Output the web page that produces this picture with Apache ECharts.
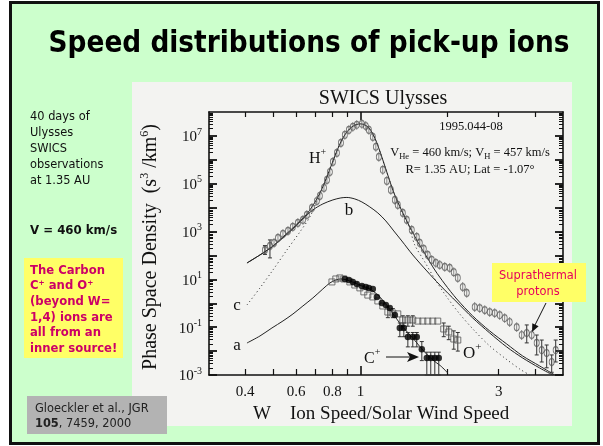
<!DOCTYPE html>
<html><head><meta charset="utf-8">
<script src="https://cdn.jsdelivr.net/npm/echarts@6/dist/echarts.min.js"></script>
<style>html,body{margin:0;padding:0;background:#fff;}#c{width:603px;height:446px;}</style>
</head><body><div id="c"></div>
<script>
// ---------- data (W = ion speed / solar wind speed, F = phase space density s^3/km^6) ----------
const hPlusW = [0.468,0.487,0.503,0.519,0.540,0.562,0.584,0.608,0.633,0.653,0.680,0.707,0.724,0.748,0.766,0.784,0.803,0.829,0.856,0.883,0.912,0.941,0.971,1.011,1.043,1.069,1.103,1.130,1.157,1.194,1.233,1.273,1.314,1.345,1.400,1.445,1.503,1.564,1.602,1.654,1.707,1.762,1.820,1.878,1.954,2.033,2.099,2.167,2.254,2.327,2.479,2.580,2.685,2.793,2.906,3.024,3.146,3.273,3.461,3.601,3.748,3.899,4.057,4.222,4.391,4.570,4.718];
const hPlusF = [170,250,333,540,794,1060,1560,2290,3060,4950,9700,1.9e4,3.1e4,6.7e4,1.44e5,3.1e5,8.2e5,1.95e6,5.1e6,1.1e7,1.78e7,2.4e7,2.9e7,3.2e7,2.6e7,1.78e7,9.1e6,3.5e6,1.32e6,3.8e5,1.31e5,5.5e4,2.1e4,1.3e4,6000,3060,1170,595,333,187,105,65,49,40,33,30,20,11.5,4.8,2.7,0.70,0.63,0.52,0.43,0.39,0.32,0.24,0.165,0.10,0.047,0.057,0.047,0.022,0.011,0.0083,0.0035,0.011];
const hErrW  = [0.468,0.487,3.748,4.057,4.222,4.391,4.570,4.718];
const hErrLo = [110,79,0.022,0.0069,0.0035,0.002,0.0013,0.0035];
const hErrHi = [260,446,0.124,0.047,0.029,0.018,0.0069,0.029];

const cPlusW = [0.883,0.912,0.941,0.971,1.011,1.043,1.069,1.103,1.139,1.185,1.223,1.262,1.314,1.367,1.411,1.457,1.515,1.564,1.628,1.694,1.748,1.805,1.863];
const cPlusF = [10.4,9.4,7.8,6.4,5.3,4.8,4.4,4.0,1.84,1.03,0.85,0.64,0.32,0.093,0.093,0.039,0.039,0.039,0.012,0.0051,0.0051,0.0051,0.0051];
const cErrW  = [1.367,1.411,1.457,1.515,1.564,1.628,1.694,1.748,1.805,1.863];
const cErrLo = [0.04,0.04,0.015,0.015,0.015,0.004,0.001,0.001,0.001,0.001];
const cErrHi = [0.15,0.15,0.06,0.06,0.06,0.025,0.009,0.009,0.009,0.009];

const oPlusW = [0.797,0.822,0.849,0.876,0.919,0.956,0.995,1.027,1.060,1.103,1.148,1.194,1.243,1.293,1.345,1.400,1.457,1.515,1.577,1.641,1.707,1.776,1.848,1.938,2.017,2.099,2.167];
const oPlusF = [7.8,10.4,11.5,10.4,7.8,5.8,4.4,3.0,2.2,1.84,1.25,0.77,0.43,0.39,0.36,0.20,0.20,0.20,0.18,0.18,0.18,0.18,0.18,0.084,0.063,0.032,0.029];
const oErrW  = [1.243,1.293,1.400,1.457,1.515,1.938,2.017,2.099,2.167];
const oErrLo = [0.25,0.25,0.11,0.11,0.11,0.04,0.03,0.012,0.010];
const oErrHi = [0.7,0.6,0.3,0.3,0.3,0.15,0.11,0.07,0.06];

const fitW = [0.4057,0.4498,0.4947,0.5399,0.5845,0.6178,0.6531,0.6796,0.7070,0.7357,0.7656,0.7966,0.8289,0.8625,0.8975,0.9337,0.9714,1.003,1.035,1.069,1.103,1.139,1.175,1.213,1.252,1.293,1.335,1.400,1.480,1.577,1.694,1.805,1.954,2.149,2.440,2.793,3.197,3.630,4.155,4.680];
const fitF = [48.5,105,227,594,1415,2780,5450,10700,23100,60600,1.93e5,6.73e5,2.36e6,6.8e6,1.47e7,2.38e7,3.03e7,3.18e7,2.88e7,2.16e7,1.21e7,5.1e6,1.77e6,5.56e5,1.75e5,5.5e4,2.1e4,6000,1560,367,86.5,24.7,6.43,1.51,0.294,0.0693,0.0198,0.00624,0.00238,0.001];

const curveBW = [0.4057,0.4498,0.4947,0.5399,0.5845,0.6327,0.6850,0.7415,0.8030,0.8555,0.8975,0.9561,1.011,1.077,1.148,1.223,1.303,1.389,1.515,1.694,1.878,2.149,2.440,2.793,3.197,3.630,4.155,4.606];
const curveBF = [48.5,105,227,540,1285,3370,8020,14300,21000,25500,26700,23100,17300,10700,6000,2780,1060,404,105,22.5,5.83,1.13,0.243,0.0571,0.0149,0.00514,0.00196,0.001];

const curveCW = [0.4057,0.4498,0.4987,0.5573,0.6178,0.6689,0.7070,0.7357,0.7656,0.7966,0.8289,0.8625,0.8975,0.9337,0.9714,1.003,1.035,1.069,1.103,1.139,1.175,1.213,1.252,1.293,1.335,1.400,1.480,1.539,1.667,1.805,1.985,2.201,2.479,2.793,3.146,3.544,3.837];
const curveCF = [0.849,4.37,24.7,170,962,4080,1.9e4,5.9e4,1.9e5,6.6e5,2.33e6,6.7e6,1.45e7,2.35e7,3.0e7,3.15e7,2.85e7,2.14e7,1.2e7,5.0e6,1.74e6,5.4e5,1.7e5,5.3e4,2.0e4,5600,1285,275,53.5,10.4,1.84,0.356,0.0693,0.0163,0.00514,0.00178,0.001];

const curveAW = [0.4057,0.4498,0.4947,0.5399,0.5845,0.6327,0.6850,0.7415,0.7839,0.8222,0.8555,0.8975,0.9561,1.011,1.077,1.148,1.223,1.303,1.400,1.515,1.641,1.776,1.893,2.001];
const curveAF = [0.0218,0.0429,0.0927,0.1815,0.356,0.771,1.67,3.96,7.06,9.44,10.4,9.44,7.06,5.3,3.96,2.22,0.935,0.324,0.102,0.0353,0.0111,0.00425,0.00238,0.00121];

// ticks / labels
const xMin = 0.3, xMax = 5, yMin = 1e-3, yMax = 1e8;
const xTickMinor = [0.4,0.5,0.6,0.7,0.8,0.9,2,3,4];
const xTickMajor = [1];
const xLabelVals = [0.4,0.6,0.8,1,3];
const xLabelText = ['0.4','0.6','0.8','1','3'];
const yLabelExp = [-3,-1,1,3,5,7];
const yMajorExp = [-3,-2,-1,0,1,2,3,4,5,6,7];

// ---------- helpers ----------
const LX = Math.log10;
const SERIF = "'Liberation Serif','DejaVu Serif',serif";
const SANS = "'DejaVu Sans',sans-serif";
const zip = (a, b) => a.map((v, i) => [v, b[i]]);
const yMinor = [];
for (let n = -3; n <= 7; n++) for (let k = 2; k <= 9; k++) yMinor.push(n + LX(k));

function T(x, y, text, o) {
  o = o || {};
  return { type: 'text', x: x, y: y, z: 20, rotation: o.rot || 0, scaleX: o.sx || 1,
    style: { text: text, fill: o.color || '#111', fontSize: o.size || 12, fontFamily: o.family || SANS,
      fontWeight: o.weight || 'normal', align: o.align || 'left', verticalAlign: o.va || 'middle',
      lineHeight: o.lh, rich: o.rich } };
}
function R(x, y, w, h, fill, extra) {
  return Object.assign({ type: 'rect', z: -10, shape: { x: x, y: y, width: w, height: h }, style: { fill: fill } }, extra || {});
}
const supRich = (size) => ({
  n: { fontSize: size, fontFamily: SERIF, lineHeight: size + 4, verticalAlign: 'bottom', fill: '#111', color: '#111' },
  s: { fontSize: Math.round(size * 0.62), fontFamily: SERIF, lineHeight: Math.round(size * 0.62), verticalAlign: 'top', fill: '#111', color: '#111' },
  b: { fontSize: Math.round(size * 0.62), fontFamily: SERIF, lineHeight: Math.round(size * 0.62), verticalAlign: 'bottom', fill: '#111', color: '#111' }
});

function logAxis(pos, min, max) {
  return { type: 'log', logBase: 10, min: min, max: max, position: pos,
    axisLine: { show: true, onZero: false, lineStyle: { color: '#111', width: 1.6 } },
    axisTick: { show: false }, axisLabel: { show: false }, splitLine: { show: false } };
}
function tickAxis(pos, min, max, ticks, len, width, label) {
  return { type: 'value', min: min, max: max, position: pos,
    axisLine: { show: false, onZero: false },
    axisTick: { show: true, inside: true, length: len, customValues: ticks, lineStyle: { color: '#111', width: width } },
    axisLabel: label || { show: false },
    splitLine: { show: false } };
}
function errSeries(W, LO, HI) {
  return { type: 'custom', xAxisIndex: 0, yAxisIndex: 0, z: 3, silent: true,
    data: W.map((w, i) => [w, LO[i], HI[i]]),
    encode: { x: 0, y: [1, 2] },
    renderItem: function (params, api) {
      const a = api.coord([api.value(0), api.value(1)]);
      const b = api.coord([api.value(0), api.value(2)]);
      const st = { stroke: '#333', lineWidth: 1 };
      return { type: 'group', children: [
        { type: 'line', shape: { x1: a[0], y1: a[1], x2: b[0], y2: b[1] }, style: st },
        { type: 'line', shape: { x1: a[0] - 2, y1: a[1], x2: a[0] + 2, y2: a[1] }, style: st },
        { type: 'line', shape: { x1: b[0] - 2, y1: b[1], x2: b[0] + 2, y2: b[1] }, style: st }
      ] };
    } };
}
function lineSeries(W, F, dotted) {
  return { type: 'line', xAxisIndex: 0, yAxisIndex: 0, data: zip(W, F), showSymbol: false, symbol: 'none',
    smooth: 0.3, silent: true, z: 2,
    lineStyle: { color: '#222', width: 1, type: dotted ? [1, 3] : 'solid' } };
}

const x0 = LX(xMin), x1 = LX(xMax), y0 = LX(yMin), y1 = LX(yMax);

const option = {
  backgroundColor: '#ffffff',
  animation: false,
  grid: { left: 209, top: 112, width: 354, height: 263, containLabel: false },
  xAxis: [
    logAxis('bottom', xMin, xMax),
    logAxis('top', xMin, xMax),
    tickAxis('bottom', x0, x1, xTickMinor.map(LX), 6, 1.2, {
      show: true, customValues: xLabelVals.map(LX), margin: 10,
      color: '#111', fontFamily: SERIF, fontSize: 15,
      formatter: function (v) {
        let best = 0;
        xLabelVals.forEach((t, i) => { if (Math.abs(LX(t) - v) < Math.abs(LX(xLabelVals[best]) - v)) best = i; });
        return xLabelText[best];
      } }),
    tickAxis('bottom', x0, x1, xTickMajor.map(LX), 9, 1.6),
    tickAxis('top', x0, x1, xTickMinor.map(LX), 5, 1.2),
    tickAxis('top', x0, x1, xTickMajor.map(LX), 8, 1.6)
  ],
  yAxis: [
    logAxis('left', yMin, yMax),
    logAxis('right', yMin, yMax),
    tickAxis('left', y0, y1, yMajorExp, 8, 1.8, {
      show: true, customValues: yLabelExp, margin: 7,
      formatter: function (v) { return '{n|10}{s|' + Math.round(v) + '}'; },
      rich: {
        n: { fontSize: 15, fontFamily: SERIF, color: '#111', lineHeight: 18, verticalAlign: 'bottom' },
        s: { fontSize: 10, fontFamily: SERIF, color: '#111', lineHeight: 10, verticalAlign: 'top' }
      } }),
    tickAxis('left', y0, y1, yMinor, 4, 1),
    tickAxis('right', y0, y1, yMajorExp, 8, 1.8),
    tickAxis('right', y0, y1, yMinor, 4, 1)
  ],
  series: [
    lineSeries(curveAW, curveAF, false),
    lineSeries(curveBW, curveBF, false),
    lineSeries(curveCW, curveCF, true),
    lineSeries(fitW, fitF, false),
    errSeries(hErrW, hErrLo, hErrHi),
    errSeries(cErrW, cErrLo, cErrHi),
    errSeries(oErrW, oErrLo, oErrHi),
    { type: 'scatter', name: 'H+', xAxisIndex: 0, yAxisIndex: 0, data: zip(hPlusW, hPlusF), z: 4, silent: true,
      symbol: 'path://M5,0 A5,5 0 1 1 -5,0 A5,5 0 1 1 5,0 Z M0,-7 L0,7', symbolKeepAspect: true, symbolSize: [7, 9.8],
      itemStyle: { color: 'rgba(0,0,0,0)', borderColor: '#555', borderWidth: 1 } },
    { type: 'scatter', name: 'O+', xAxisIndex: 0, yAxisIndex: 0, data: zip(oPlusW, oPlusF), z: 4, silent: true,
      symbol: 'rect', symbolSize: 6,
      itemStyle: { color: 'rgba(0,0,0,0)', borderColor: '#555', borderWidth: 1 } },
    { type: 'scatter', name: 'C+', xAxisIndex: 0, yAxisIndex: 0, data: zip(cPlusW, cPlusF), z: 5, silent: true,
      symbol: 'circle', symbolSize: 6.5, itemStyle: { color: '#000' } }
  ],
  graphic: { elements: [
    // slide background and frame
    R(10.5, 2.5, 588, 441, '#CCFFCC', { z: -20, style: { fill: '#CCFFCC', stroke: '#111', lineWidth: 3 } }),
    R(132, 82, 440, 344, '#F3F3F1'),
    R(24, 258, 99, 100, '#FFFF66'),
    R(27, 396, 140, 38, '#B3B3B3'),
    R(492, 263, 94, 39, '#FFFF66', { z: 15 }),
    // slide title
    T(309, 44, 'Speed distributions of pick-up ions', { size: 30, weight: 'bold', align: 'center', sx: 0.88, color: '#000' }),
    // left notes
    T(30, 117, '40 days of', { sx: 0.95 }),
    T(30, 133, 'Ulysses', { sx: 0.95 }),
    T(30, 149, 'SWICS', { sx: 0.95 }),
    T(30, 165, 'observations', { sx: 0.95 }),
    T(30, 181, 'at 1.35 AU', { sx: 0.95 }),
    T(30, 231, 'V = 460 km/s', { weight: 'bold', sx: 0.98 }),
    T(30, 271, 'The Carbon', { weight: 'bold', sx: 0.97, color: '#CC0066' }),
    T(30, 286, 'C\u207A and O\u207A', { weight: 'bold', sx: 0.97, color: '#CC0066' }),
    T(30, 302, '(beyond W=', { weight: 'bold', sx: 0.97, color: '#CC0066' }),
    T(30, 318, '1,4) ions are', { weight: 'bold', sx: 0.97, color: '#CC0066' }),
    T(30, 333, 'all from an', { weight: 'bold', sx: 0.97, color: '#CC0066' }),
    T(30, 349, 'inner source!', { weight: 'bold', sx: 0.97, color: '#CC0066' }),
    T(35, 409, 'Gloeckler et al., JGR', { sx: 0.95, color: '#222' }),
    T(35, 424, '{b|105}, 7459, 2000', { sx: 0.95, color: '#222', rich: { b: { fontWeight: 'bold', fontSize: 12, fontFamily: SANS, fill: '#222', color: '#222' } } }),
    // suprathermal callout
    T(538, 276, 'Suprathermal', { align: 'center', sx: 0.95, color: '#E6005C' }),
    T(538, 292, 'protons', { align: 'center', sx: 0.95, color: '#E6005C' }),
    { type: 'line', z: 20, shape: { x1: 546, y1: 303, x2: 534.5, y2: 326 }, style: { stroke: '#111', lineWidth: 1 } },
    { type: 'polygon', z: 20, shape: { points: [[532, 332], [538.6, 326.3], [532.3, 323.3]] }, style: { fill: '#111' } },
    // figure texts
    T(383, 99, 'SWICS Ulysses', { size: 20, family: SERIF, align: 'center' }),
    T(471, 127, '1995.044-08', { size: 12.5, family: SERIF, align: 'center' }),
    T(470, 153, 'V{b|He} = 460 km/s; V{b|H} = 457 km/s', { size: 12.5, family: SERIF, align: 'center', lh: 16,
      rich: { b: { fontSize: 8.5, fontFamily: SERIF, lineHeight: 8, verticalAlign: 'bottom', fill: '#111', color: '#111' } } }),
    T(470, 170, 'R= 1.35 AU; Lat = -1.07\u00B0', { size: 12.5, family: SERIF, align: 'center' }),
    T(309, 157, '{n|H}{s|+}', { align: 'left', rich: supRich(16) }),
    T(349, 211, 'b', { size: 17, family: SERIF, align: 'center' }),
    T(237, 306, 'c', { size: 17, family: SERIF, align: 'center' }),
    T(237, 346, 'a', { size: 17, family: SERIF, align: 'center' }),
    T(364, 357, '{n|C}{s|+}', { align: 'left', rich: supRich(16) }),
    T(463, 352, '{n|O}{s|+}', { align: 'left', rich: supRich(17) }),
    { type: 'line', z: 20, shape: { x1: 386, y1: 357, x2: 412, y2: 357 }, style: { stroke: '#111', lineWidth: 1 } },
    { type: 'polygon', z: 20, shape: { points: [[419, 357], [407, 352], [410, 357], [407, 362]] }, style: { fill: '#111' } },
    // axis titles
    T(151, 247, 'Phase Space Density  (s{s|3} /km{s|6})', { size: 20, family: SERIF, align: 'center', rot: Math.PI / 2, lh: 24,
      rich: { s: { fontSize: 12, fontFamily: SERIF, lineHeight: 12, verticalAlign: 'top', fill: '#111', color: '#111' } } }),
    T(262, 414, 'W', { size: 19, family: SERIF, align: 'center' }),
    T(290, 414, 'Ion Speed/Solar Wind Speed', { size: 19, family: SERIF, align: 'left' })
  ] }
};

const chart = echarts.init(document.getElementById('c'), null, { renderer: 'canvas', width: 603, height: 446 });
chart.setOption(option);
</script>
</body></html>
